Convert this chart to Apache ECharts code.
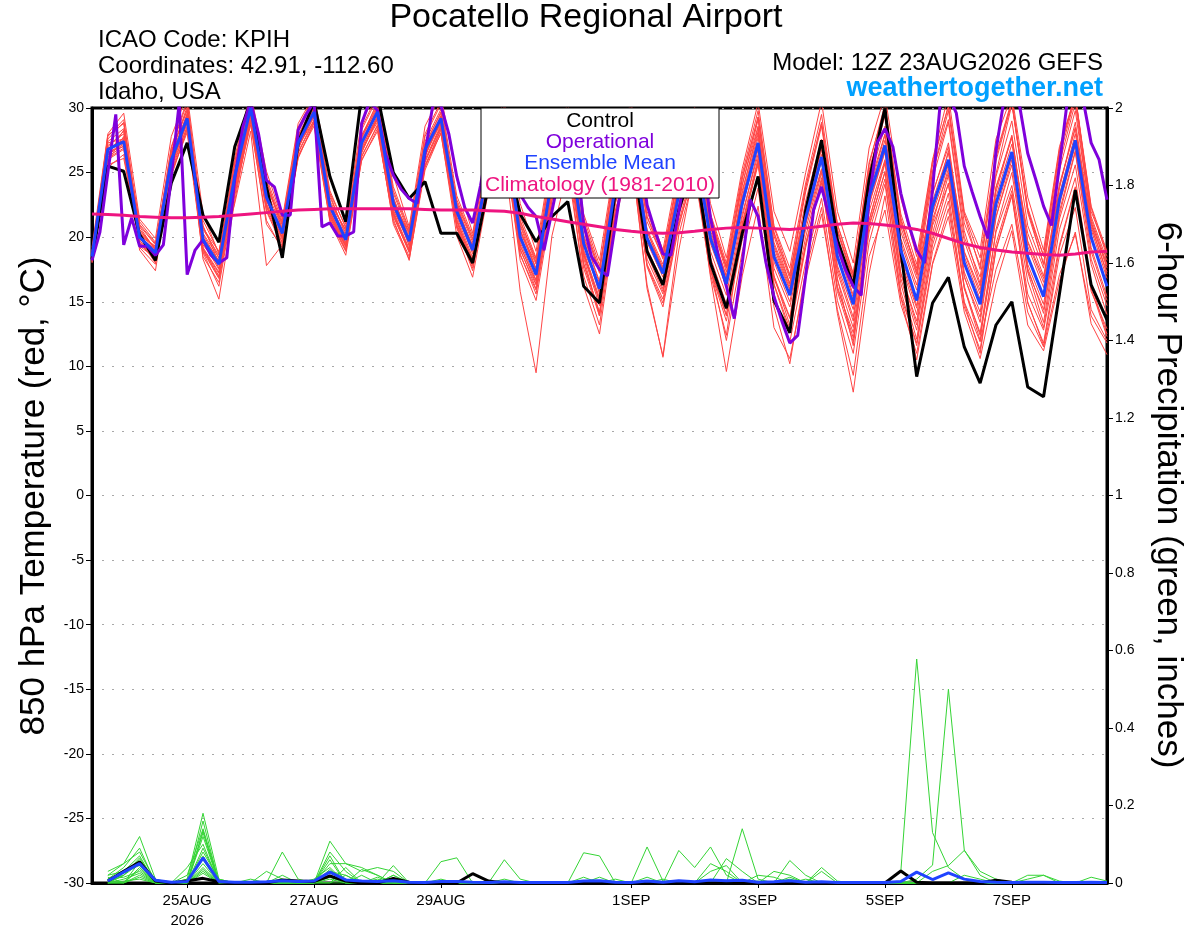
<!DOCTYPE html>
<html><head><meta charset="utf-8">
<script src="https://cdn.jsdelivr.net/npm/echarts@6.0.0/dist/echarts.min.js"></script>
<style>html,body{margin:0;padding:0;background:#fff}#c{width:1200px;height:927px}</style>
</head><body><div id="c"></div>
<script>
// ---- x axis (hours after 12Z 23AUG2026) ----
const xTickHours = [36, 84, 132, 204, 252, 300, 348];
const xTickLabels = ['25AUG\n2026', '27AUG', '29AUG', '1SEP', '3SEP', '5SEP', '7SEP'];

// ---- 850 hPa temperature, 6-hourly from 12Z 23AUG ----
const control = [18.3,25.5,25.1,20.2, 18.2,24.2,27.3,21.7, 19.6,27.0,30.5,23.9, 18.4,27.3,30.5,24.7, 21.2,31.0,31.0,25.0, 23.0,24.3,20.3,20.3, 18.0,24.0,27.0,21.8, 19.65,21.6,22.75,16.2, 14.9,23.5,27.0,18.9, 16.3,22.1,26.0,18.0, 14.5,20.3,24.7,15.1, 12.6,22.1,27.5,19.8, 16.2,24.4,30.0,19.0, 9.2,14.9,16.9,11.5, 8.7,13.2,15.0,8.4, 7.65,15.6,23.65,16.3, 13.6];
const ensMean = [18.5,26.8,27.4,20.0, 18.8,26.0,29.2,19.8, 17.9,24.7,30.0,23.1, 20.3,27.3,29.7,22.4, 19.8,27.3,29.7,22.6, 19.7,26.8,29.2,22.0, 19.0,25.5,28.5,20.0, 17.1,24.5,28.0,19.5, 16.0,24.0,28.0,19.9, 17.2,23.3,27.0,19.9, 16.4,22.6,27.3,18.5, 15.5,21.5,26.2,18.5, 14.8,23.1,27.1,19.0, 15.1,22.4,26.0,18.0, 14.8,22.6,26.6,18.5, 15.4,22.9,27.5,20.0, 16.2];
const climatology = [21.8,21.75,21.7,21.6, 21.55,21.5,21.5,21.55, 21.6,21.7,21.8,21.9, 22.0,22.1,22.15,22.2, 22.2,22.2,22.2,22.2, 22.2,22.15,22.1,22.1, 22.1,22.05,22.0,21.85, 21.6,21.4,21.2,21.0, 20.8,20.6,20.45,20.35, 20.3,20.35,20.45,20.6, 20.7,20.75,20.7,20.65, 20.6,20.7,20.85,21.0, 21.1,21.05,20.95,20.8, 20.6,20.3,19.9,19.5, 19.2,19.0,18.85,18.75, 18.65,18.6,18.7,18.85, 18.9];
// operational run, 3-hourly
const operational = [18.2,20.4,25.0,29.5,19.4,21.5,19.3,19.3, 18.6,19.4,24.7,30.4,17.1,19.0,19.8,18.6, 18.0,18.4,24.5,28.5,30.5,28.0,24.4,23.9, 21.7,21.7,28.3,29.5,30.5,20.8,21.1,20.1, 20.1,20.4,28.8,30.5,29.8,26.5,24.8,23.7, 23.0,22.6,26.5,30.3,30.2,28.0,24.7,22.3, 21.1,24.0,27.5,29.0,29.0,27.0,23.3,22.3, 21.6,19.0,22.0,25.0,28.0,27.0,21.0,18.5, 17.5,17.0,21.0,25.0,28.0,27.0,22.5,20.5, 18.7,18.6,22.0,25.5,28.0,26.0,21.5,18.5, 16.2,13.7,18.0,22.9,21.6,18.0,15.4,13.5, 11.8,12.4,17.0,22.1,23.9,21.5,19.3,17.5, 16.2,15.5,23.0,27.3,28.4,27.0,23.4,21.0, 19.0,18.0,23.7,30.6,31.0,29.6,25.5,23.5, 21.6,19.9,26.7,30.6,31.0,30.1,26.5,24.5, 22.4,20.9,25.5,30.6,31.0,30.6,27.3,26.0, 22.9];
// ensemble members (estimated)
const tempMembers = [
 [18.9,27.8,29.1,20.6, 19.1,27.0,30.6,20.9, 18.0,25.8,31.0,24.3, 21.0,28.2,30.8,23.1, 20.3,28.5,31.0,23.9, 20.6,28.0,30.5,23.2, 20.1,27.0,30.2,21.6, 18.4,26.2,29.8,21.2, 17.5,25.8,30.1,22.0, 18.6,25.1,29.6,21.8, 18.0,24.9,29.8,20.9, 17.6,24.2,29.5,21.0, 17.2,25.6,30.3,21.3, 17.4,25.0,29.8,21.1, 17.8,26.2,30.5,22.0, 18.6,26.8,31.0,22.4, 18.9],
 [18.2,26.0,26.8,19.5, 18.3,25.1,28.6,19.1, 17.2,23.9,29.4,22.3, 19.6,26.5,29.0,21.7, 19.2,26.6,29.1,21.8, 19.0,25.9,28.5,20.9, 17.8,24.2,27.4,18.7, 15.6,22.8,26.5,17.6, 13.9,21.7,26.0,17.8, 14.9,21.0,25.1,17.4, 13.5,19.8,24.6,15.2, 11.9,18.1,23.0,15.1, 11.0,19.6,24.1,15.8, 11.6,18.9,22.8,14.6, 11.3,19.0,23.2,14.9, 11.8,19.2,23.8,16.0, 12.3],
 [18.6,27.1,28.0,21.2, 19.6,26.4,29.5,20.7, 18.9,25.0,29.8,23.9, 21.1,27.8,29.9,22.8, 20.5,27.6,30.2,22.9, 20.2,26.6,28.8,22.7, 19.8,25.9,28.9,20.9, 17.5,23.7,27.3,18.8, 15.1,23.3,27.5,20.6, 17.9,24.4,28.4,21.1, 17.8,24.1,28.6,19.4, 16.2,22.0,25.9,17.6, 13.8,22.5,26.6,18.2, 14.5,21.9,26.7,18.9, 15.9,23.8,27.9,19.7, 16.8,24.1,28.4,20.8, 17.3],
 [18.4,25.6,26.1,19.8, 18.0,24.9,28.3,18.9, 16.8,24.0,29.0,22.1, 19.5,26.9,29.4,21.6, 19.0,26.3,28.6,21.0, 18.3,25.2,28.1,20.1, 16.9,23.6,26.4,15.8, 9.5,20.1,25.3,17.0, 13.2,21.6,26.3,16.3, 10.7,19.0,25.4,17.6, 14.0,20.6,25.9,16.4, 12.9,19.5,24.2,16.2, 12.2,21.0,25.0,16.8, 12.8,20.3,24.8,16.1, 12.0,20.6,25.0,17.3, 13.4,21.4,25.6,17.9, 14.0],
 [18.7,27.9,28.8,20.3, 18.6,26.7,29.8,19.9, 17.6,25.3,30.5,23.5, 20.1,27.0,30.1,22.0, 19.6,27.9,30.3,22.9, 19.3,27.2,29.6,21.6, 18.4,25.1,28.3,20.2, 17.0,25.0,28.6,19.9, 15.8,24.6,28.9,20.5, 17.4,23.9,27.8,20.8, 16.9,23.6,28.2,19.2, 16.0,21.9,26.8,19.1, 15.3,23.9,28.0,19.6, 15.9,23.3,27.3,18.8, 15.6,23.5,27.8,19.3, 16.1,23.8,28.9,21.0, 17.1],
 [18.1,25.9,27.8,19.0, 17.4,25.5,28.9,18.3, 15.2,22.8,29.3,22.6, 19.9,27.1,29.0,21.9, 19.5,26.8,28.9,22.0, 19.1,26.0,28.7,21.3, 18.2,24.6,27.9,19.4, 16.4,24.0,27.6,18.7, 15.0,23.2,27.1,19.1, 16.5,22.6,26.3,18.9, 15.5,21.8,26.4,17.6, 14.6,20.6,25.2,17.3, 13.5,22.0,26.0,18.0, 14.0,21.4,25.0,16.9, 13.8,21.6,25.6,17.4, 14.4,22.0,26.7,18.9, 15.1],
 [19.2,28.0,29.6,21.4, 19.9,27.8,31.0,21.8, 18.7,26.2,31.2,25.1, 21.4,28.8,31.0,24.6, 21.0,29.0,31.2,24.8, 20.8,28.6,31.0,24.5, 20.3,27.4,30.6,22.6, 18.9,26.6,30.4,21.8, 18.2,26.1,30.6,22.4, 19.0,25.6,30.1,22.6, 18.4,25.3,30.4,22.0, 18.9,25.0,30.5,22.0, 18.0,26.9,31.0,23.0, 18.5,26.0,31.0,22.0, 19.0,27.6,31.0,23.1, 19.0,27.0,31.0,22.0, 18.8],
 [18.3,26.4,27.2,20.1, 18.7,25.8,28.9,19.6, 17.5,24.3,29.7,22.9, 20.4,27.4,29.5,22.3, 19.8,27.0,29.4,22.3, 19.4,26.4,29.0,21.9, 18.7,25.0,28.0,19.6, 16.7,23.8,27.5,18.6, 14.7,22.6,27.0,18.3, 15.6,21.6,26.1,17.6, 12.0,18.9,23.8,14.6, 10.2,17.4,22.3,14.1, 8.0,17.2,23.2,15.3, 10.5,17.9,21.6,14.2, 10.6,16.4,20.5,13.2, 11.2,16.6,20.4,13.3, 10.9],
 [18.5,27.3,27.6,20.9, 19.4,26.2,29.4,20.2, 18.1,24.4,30.3,23.2, 20.6,27.9,30.3,22.6, 20.6,27.2,29.8,23.0, 20.0,27.4,29.9,22.3, 19.3,26.0,29.0,20.6, 17.4,24.9,28.7,20.2, 16.4,24.9,28.8,20.1, 17.6,23.9,27.7,20.3, 16.7,23.1,28.0,18.9, 15.9,22.3,27.0,19.4, 15.5,23.5,27.9,19.9, 16.3,23.4,27.0,18.5, 15.2,23.9,27.7,19.6, 16.5,23.9,28.5,20.6, 16.8],
 [18.0,26.1,26.9,19.2, 17.9,25.0,28.1,18.5, 16.5,23.4,28.7,21.3, 19.0,26.3,28.6,21.2, 18.6,26.0,28.2,21.4, 18.2,25.6,28.0,20.7, 17.6,24.0,27.1,18.2, 15.1,22.4,26.5,16.2, 12.5,21.3,26.4,16.0, 10.8,20.2,25.0,17.1, 12.4,20.9,25.8,17.0, 13.8,21.1,25.3,16.8, 11.6,21.3,25.9,17.2, 13.2,20.9,24.1,16.0, 12.6,20.4,24.0,16.6, 13.0,20.6,24.6,16.3, 12.5],
 [18.9,27.0,28.2,20.8, 19.0,26.5,30.1,20.6, 18.6,25.6,30.4,24.0, 20.9,27.6,30.4,23.3, 20.1,27.7,30.5,22.6, 20.4,27.0,29.4,22.1, 19.4,26.2,29.5,21.0, 18.0,25.6,29.2,20.9, 17.3,25.4,29.5,21.2, 18.4,24.8,29.0,21.6, 17.7,24.0,29.1,20.4, 17.0,23.5,28.6,20.4, 16.8,25.0,29.4,21.1, 17.6,25.6,30.2,21.8, 18.4,26.4,30.6,22.3, 18.5,26.6,31.0,21.6, 18.2],
 [18.4,26.6,27.0,20.4, 18.9,26.1,29.1,19.4, 17.8,24.6,29.9,22.5, 20.0,27.5,29.8,22.1, 19.9,27.3,29.6,22.1, 19.6,26.8,29.3,21.8, 18.9,25.4,28.7,19.8, 17.2,24.2,27.9,19.0, 16.1,23.9,28.1,19.6, 16.9,23.3,27.3,19.5, 16.1,22.3,27.2,18.1, 15.0,21.0,26.0,17.8, 14.4,22.6,26.7,18.6, 14.7,21.8,25.6,17.3, 14.2,22.0,26.3,17.9, 14.8,22.5,27.1,19.2, 15.4],
 [18.6,26.9,27.5,19.7, 18.5,25.6,28.8,19.2, 17.3,23.7,29.5,22.8, 20.2,27.0,29.3,21.9, 19.4,26.7,29.2,21.7, 18.8,25.8,28.6,21.2, 17.9,24.7,27.8,19.1, 16.0,23.3,27.0,18.0, 14.2,22.0,26.6,17.9, 15.2,21.2,25.7,16.9, 9.6,17.0,22.4,13.0, 10.6,16.8,21.8,14.4, 9.3,18.5,22.1,14.8, 11.0,18.0,22.2,15.0, 11.9,17.5,21.0,14.2, 11.5,17.1,20.2,13.9, 11.8],
 [18.8,27.4,28.4,20.2, 19.3,26.6,29.9,20.0, 18.2,25.1,30.6,23.6, 20.7,27.8,30.2,22.7, 20.0,27.8,30.0,23.1, 19.8,27.1,29.7,22.5, 19.1,25.8,28.9,20.4, 17.6,25.1,28.8,20.0, 16.6,24.8,28.6,20.4, 17.7,24.2,28.0,20.5, 17.0,23.4,28.5,19.6, 16.4,22.8,27.6,19.9, 16.0,24.3,28.6,20.4, 16.8,24.5,28.9,20.0, 16.9,24.7,29.0,20.9, 17.6,25.2,29.8,21.4, 17.9],
 [18.2,26.2,27.1,19.9, 18.6,25.4,28.5,18.8, 16.2,23.2,28.9,21.0, 19.2,26.6,29.1,21.4, 19.0,26.2,28.7,21.6, 18.9,25.5,28.4,21.0, 18.0,24.5,27.6,19.0, 16.3,23.5,27.2,18.4, 13.9,22.7,27.3,18.7, 15.8,22.2,26.6,18.4, 14.8,21.5,26.8,17.0, 13.2,19.4,24.6,16.0, 12.6,20.8,25.1,16.4, 12.1,19.8,24.2,16.2, 12.4,19.5,23.6,15.6, 12.8,19.4,23.9,15.8, 12.9],
 [18.5,26.5,27.3,20.6, 19.0,26.3,29.0,20.3, 18.4,22.6,28.2,17.8, 19.4,26.1,28.9,21.5, 19.3,26.9,29.3,22.5, 19.9,26.3,29.1,22.4, 19.2,25.7,28.8,20.5, 17.9,24.7,28.1,19.7, 15.6,24.3,28.3,20.0, 17.3,23.6,28.5,21.3, 17.3,24.5,29.3,20.1, 16.4,23.9,28.8,20.6, 16.5,25.2,29.6,21.5, 17.2,25.1,29.1,20.5, 16.4,24.9,30.3,22.2, 17.9,25.7,30.4,21.2, 17.6],
 [18.7,26.3,28.3,21.0, 19.5,25.9,29.6,21.3, 18.8,24.9,30.1,24.4, 20.6,26.8,29.8,23.4, 20.8,27.4,30.0,23.6, 20.5,26.2,29.4,22.9, 19.9,25.3,28.2,21.2, 18.3,24.4,28.3,21.5, 17.8,24.1,27.9,21.6, 18.7,23.7,27.4,21.4, 17.6,22.9,27.7,20.3, 16.8,22.1,26.4,20.6, 16.9,23.2,27.5,20.8, 17.1,22.8,26.5,19.7, 16.2,23.1,27.2,20.3, 17.0,23.3,28.0,21.1, 17.8],
 [18.3,26.7,27.7,19.6, 18.2,25.7,29.0,19.1, 17.0,24.1,29.6,22.4, 19.8,26.9,29.5,21.8, 19.3,26.5,29.3,21.9, 18.9,26.3,28.9,21.4, 18.1,24.9,28.2,19.3, 16.6,24.1,27.8,18.9, 15.3,23.4,27.7,19.0, 16.0,22.5,26.9,18.2, 14.4,21.1,26.1,16.3, 12.6,19.2,24.4,15.8, 11.9,20.4,24.5,15.4, 11.8,19.4,23.4,14.9, 11.0,19.1,23.3,15.0, 11.6,18.6,22.3,14.4, 12.0],
 [18.6,27.6,28.9,20.4, 19.2,26.9,30.4,20.8, 18.4,25.9,30.9,24.6, 21.2,28.5,30.9,23.6, 20.7,28.3,30.8,23.4, 20.3,27.8,30.3,22.6, 19.6,26.7,29.7,21.3, 18.1,25.8,29.7,21.1, 17.2,25.6,29.8,21.6, 18.3,25.0,29.3,21.5, 17.6,24.6,29.3,20.8, 17.1,23.8,28.9,21.0, 17.1,25.8,30.0,21.8, 17.9,25.9,30.1,21.7, 17.5,25.9,30.4,21.9, 17.9,26.2,30.8,22.3, 18.5],
 [18.1,25.4,26.4,19.3, 18.4,24.7,28.4,19.0, 16.9,23.6,29.1,22.0, 19.3,26.2,28.8,21.3, 18.9,25.9,28.4,21.2, 18.5,25.4,28.3,20.8, 17.4,23.9,27.0,18.6, 15.9,22.9,26.8,17.9, 14.1,22.1,26.4,17.7, 14.6,20.8,25.5,17.5, 13.9,20.9,25.6,16.8, 13.7,20.0,25.0,16.7, 13.0,21.3,25.7,17.2, 13.5,21.1,25.3,17.0, 13.4,21.5,26.0,17.6, 14.1,21.7,26.6,18.3, 14.7]
];

// ---- 6-hour precipitation (inches), 6-hourly from 18Z 23AUG ----
const precipControl = [.005,.03,.054,.005,0,.005,.012,.003, 0,0,0,.008,.005,.004,.018,.005, 0,0,.012,.002,0,0,0,.024, .005,0,0,0,0,0,0,0, 0,0,0,0,0,0,0,0, 0,0,0,0,0,0,0,0, 0,0,.031,.002,0,0,0,0, .007,.002,0,0,0,0,0,0];
const precipMean = [.005,.028,.05,.007,.002,.004,.065,.004, .002,.002,.003,.006,.004,.005,.028,.008, .005,.004,.006,.002,.001,.004,.004,.002, .001,.003,.001,.001,.001,.001,.005,.006, .002,.001,.005,.002,.006,.003,.008,.006, .007,.002,.003,.006,.002,.003,.001,.001, .001,.001,.004,.028,.009,.026,.01,.004, .002,.001,.002,.002,.001,.001,.002,.001];
const precipMembers = [
 [.02,.05,.12,.01,0,.01,.18,.01, 0,0,0,0,0,0,.03,.01, 0,0,0,0,0,0,0,0, 0,0,0,0,0,0,0,0, 0,0,0,0,0,0,0,0, 0,0,0,0,0,0,0,0, 0,0,0,0,0,0,0,0, 0,0,0,0,0,0,0,0],
 [.01,.04,.09,0,0,.02,.14,.005, 0,0,0,.08,.01,0,.02,0, 0,0,0,0,0,0,0,0, 0,0,0,0,0,0,0,0, 0,0,0,0,0,0,0,0, 0,0,0,0,0,0,0,0, 0,0,0,0,0,0,0,0, 0,0,0,0,0,0,0,0],
 [.03,.05,.08,.005,0,0,.135,0, 0,0,0,0,0,0,.108,.05, .04,.02,0,0,0,0,0,0, 0,0,0,0,0,0,0,0, 0,0,0,0,0,0,0,0, 0,0,0,0,0,0,0,0, 0,0,0,0,0,0,0,0, 0,0,0,0,0,0,0,0],
 [0,.03,.07,0,0,0,.12,0, 0,.01,0,0,0,0,.08,.03, 0,0,.045,0,0,0,0,0, 0,0,0,0,0,0,.015,0, 0,0,0,0,0,0,0,0, 0,0,0,0,0,0,0,0, 0,0,0,0,0,0,0,0, 0,0,0,0,0,0,0,0],
 [.01,.02,.06,0,0,.04,.10,0, 0,0,.03,.01,0,0,.05,.05, .03,.04,.03,0,0,.055,.065,0, 0,.06,.01,0,0,0,0,0, 0,0,0,0,0,0,0,0, 0,0,0,0,0,0,0,0, 0,0,0,0,0,0,0,0, 0,0,0,0,0,0,0,0],
 [0,.02,.05,0,0,0,.08,.01, 0,0,0,0,0,.01,.04,0, .035,.02,0,0,0,0,0,0, 0,0,0,0,0,0,.078,.07, 0,0,0,0,0,0,0,0, 0,0,0,0,0,0,0,0, 0,0,0,0,0,0,0,0, 0,0,0,0,0,0,0,0],
 [.02,.03,.045,0,0,0,.07,0, 0,0,0,0,0,0,.03,.02, 0,0,0,0,0,0,0,0, 0,0,0,0,0,0,0,0, 0,0,.093,.005,0,0,.05,.03, 0,0,0,0,0,0,0,0, 0,0,0,0,0,0,0,0, 0,0,0,0,0,0,0,0],
 [0,0,.035,0,0,.01,.06,0, 0,0,0,0,0,0,.06,0, 0,.01,0,0,0,0,0,0, 0,0,0,0,0,0,0,0, 0,0,0,0,.084,.04,.093,.02, 0,0,0,0,0,0,0,0, 0,0,0,0,0,0,0,0, 0,0,0,0,0,0,0,0],
 [.01,.015,.03,0,0,0,.05,0, 0,0,0,0,0,0,0,.04, 0,0,0,0,0,0,0,0, 0,0,0,0,0,0,0,0, 0,0,0,0,0,0,0,0, .14,.01,0,.058,.02,0,0,0, 0,0,0,0,0,0,0,0, 0,0,0,0,0,0,0,0],
 [0,.01,.025,0,0,0,.04,0, 0,0,0,.02,0,0,.02,0, 0,0,0,0,0,0,0,0, 0,0,0,0,0,0,0,0, 0,0,0,0,0,0,0,.063, .03,0,.03,.02,0,.04,.005,0, 0,0,0,0,0,0,0,0, 0,0,0,0,0,0,0,0],
 [0,0,.02,0,0,0,.035,0, 0,0,0,0,0,0,.015,0, 0,0,0,0,0,.01,0,0, 0,0,0,0,0,0,0,0, 0,0,0,0,0,0,.03,.045, 0,0,0,0,0,.03,0,0, 0,0,.03,.578,.13,.04,.01,0, 0,0,0,0,0,0,0,0],
 [0,0,.015,0,0,0,.03,0, 0,0,0,0,0,0,0,0, 0,0,.02,0,0,0,0,0, 0,0,0,0,0,0,0,0, .01,0,0,0,0,0,0,0, 0,0,0,.015,0,0,0,0, 0,0,0,.01,.046,.50,.085,.02, 0,0,0,0,0,0,0,0],
 [0,.005,.01,0,0,0,.025,0, 0,0,0,0,0,0,.01,0, 0,0,0,0,0,0,0,0, 0,0,0,0,0,0,0,0, 0,0,0,0,0,0,0,0, 0,.02,.015,0,0,0,0,0, 0,0,0,0,.03,.045,.084,.03, .01,0,0,0,0,0,0,0],
 [0,0,.04,0,0,0,.16,0, 0,0,0,0,0,0,.07,0, .02,0,0,0,0,0,0,0, 0,0,0,0,0,0,0,0, 0,0,.015,0,0,0,0,0, 0,0,0,0,.01,0,0,0, 0,0,0,0,0,0,0,0, 0,0,.02,.02,.005,0,0,0],
 [.015,0,.055,0,0,0,.13,0, 0,0,0,0,0,0,.035,0, 0,0,.02,0,0,0,0,0, 0,0,0,0,0,0,0,.015, 0,0,0,0,0,0,0,0, 0,0,0,.01,0,0,0,0, 0,0,0,0,0,0,.02,.01, 0,0,0,0,0,0,.015,.005],
 [0,.02,.065,0,0,0,.09,.005, 0,0,0,0,0,0,0,.02, 0,.015,0,0,0,0,0,0, 0,.01,0,0,0,0,0,0, 0,0,0,.01,0,0,0,0, 0,.005,0,0,0,0,0,0, 0,0,0,0,0,0,0,0, 0,0,.01,.02,0,0,0,0]
];

// ---- colours ----
const C_ENS = '#ff4545', C_PCP = '#35d435', C_CTL = '#000000', C_OPR = '#7f00dc', C_MEAN = '#1f43ff', C_CLIM = '#ee1480';
const FONT = '"Liberation Sans", Arial, Helvetica, sans-serif';

function toPairs(arr, stepH, startH) { return arr.map((v, k) => [startH + k * stepH, v]); }
function lineSeries(data, yIdx, color, width) {
  return { type: 'line', data: data, yAxisIndex: yIdx, symbol: 'none', showSymbol: false,
    lineStyle: { color: color, width: width }, itemStyle: { color: color },
    silent: true, animation: false, clip: true };
}

const series = [];
tempMembers.forEach(m => series.push(lineSeries(toPairs(m, 6, 0), 0, C_ENS, 1)));
precipMembers.forEach(m => series.push(lineSeries(toPairs(m, 6, 6), 1, C_PCP, 1)));
series.push(lineSeries(toPairs(precipControl, 6, 6), 1, C_CTL, 3));
series.push(lineSeries(toPairs(precipMean, 6, 6), 1, C_MEAN, 3));
series.push(lineSeries(toPairs(control, 6, 0), 0, C_CTL, 3));
series.push(lineSeries(toPairs(operational, 3, 0), 0, C_OPR, 3));
series.push(lineSeries(toPairs(ensMean, 6, 0), 0, C_MEAN, 3));
series.push(lineSeries(toPairs(climatology, 6, 0), 0, C_CLIM, 3));

const chart = echarts.init(document.getElementById('c'), null, { renderer: 'canvas' });
chart.setOption({
  animation: false,
  backgroundColor: '#fff',
  grid: { left: 92, right: 93, top: 108, bottom: 44, containLabel: false, outerBoundsMode: 'none',
    show: true, borderColor: '#000', borderWidth: 3, backgroundColor: 'transparent' },
  xAxis: {
    type: 'value', min: 0, max: 384,
    axisLine: { show: true, onZero: false, lineStyle: { color: '#000', width: 3 } },
    axisTick: { show: true, customValues: xTickHours, length: 5, lineStyle: { color: '#000', width: 1 } },
    axisLabel: { customValues: xTickHours, color: '#000', fontSize: 15, fontFamily: FONT, margin: 8, lineHeight: 20,
      formatter: v => { const k = xTickHours.indexOf(Math.round(v)); return k >= 0 ? xTickLabels[k] : ''; } },
    splitLine: { show: false }
  },
  yAxis: [
    { type: 'value', min: -30, max: 30, interval: 5, position: 'left',
      axisLine: { show: true, onZero: false, lineStyle: { color: '#000', width: 3 } },
      axisTick: { show: true, length: 6, lineStyle: { color: '#000', width: 1 } },
      axisLabel: { color: '#000', fontSize: 14, fontFamily: FONT, margin: 8 },
      splitLine: { show: true, lineStyle: { color: '#a8a8a8', type: [2, 8], width: 1 } } },
    { type: 'value', min: 0, max: 2, interval: 0.2, position: 'right',
      axisLine: { show: true, onZero: false, lineStyle: { color: '#000', width: 3 } },
      axisTick: { show: true, length: 6, lineStyle: { color: '#000', width: 1 } },
      axisLabel: { color: '#000', fontSize: 14, fontFamily: FONT, margin: 8 },
      splitLine: { show: false } }
  ],
  series: series,
  graphic: [
    { type: 'text', x: 586, y: 18, style: { text: 'Pocatello Regional Airport', font: '34px ' + FONT, fill: '#000', align: 'center', verticalAlign: 'middle' } },
    { type: 'text', x: 98, y: 40, style: { text: 'ICAO Code: KPIH', font: '24px ' + FONT, fill: '#000', verticalAlign: 'middle' } },
    { type: 'text', x: 98, y: 66, style: { text: 'Coordinates: 42.91, -112.60', font: '24px ' + FONT, fill: '#000', verticalAlign: 'middle' } },
    { type: 'text', x: 98, y: 92, style: { text: 'Idaho, USA', font: '24px ' + FONT, fill: '#000', verticalAlign: 'middle' } },
    { type: 'text', x: 1103, y: 63, style: { text: 'Model: 12Z 23AUG2026 GEFS', font: '24px ' + FONT, fill: '#000', align: 'right', verticalAlign: 'middle' } },
    { type: 'text', x: 1103, y: 89, style: { text: 'weathertogether.net', font: 'bold 27px ' + FONT, fill: '#00a0ff', align: 'right', verticalAlign: 'middle' } },
    { type: 'text', x: 34, y: 496, rotation: Math.PI / 2, style: { text: '850 hPa Temperature (red, °C)', font: '35px ' + FONT, fill: '#000', align: 'center', verticalAlign: 'middle' } },
    { type: 'text', x: 1168, y: 495, rotation: -Math.PI / 2, style: { text: '6-hour Precipitation (green, inches)', font: '35px ' + FONT, fill: '#000', align: 'center', verticalAlign: 'middle' } },
    { type: 'rect', z: 100, shape: { x: 481, y: 108, width: 238, height: 90 }, style: { fill: '#fff', stroke: '#000', lineWidth: 1 } },
    { type: 'text', z: 101, x: 600, y: 121, style: { text: 'Control', font: '21px ' + FONT, fill: C_CTL, align: 'center', verticalAlign: 'middle' } },
    { type: 'text', z: 101, x: 600, y: 142, style: { text: 'Operational', font: '21px ' + FONT, fill: C_OPR, align: 'center', verticalAlign: 'middle' } },
    { type: 'text', z: 101, x: 600, y: 163, style: { text: 'Ensemble Mean', font: '21px ' + FONT, fill: C_MEAN, align: 'center', verticalAlign: 'middle' } },
    { type: 'text', z: 101, x: 600, y: 185, style: { text: 'Climatology (1981-2010)', font: '21px ' + FONT, fill: C_CLIM, align: 'center', verticalAlign: 'middle' } }
  ]
});
</script>
</body></html>
